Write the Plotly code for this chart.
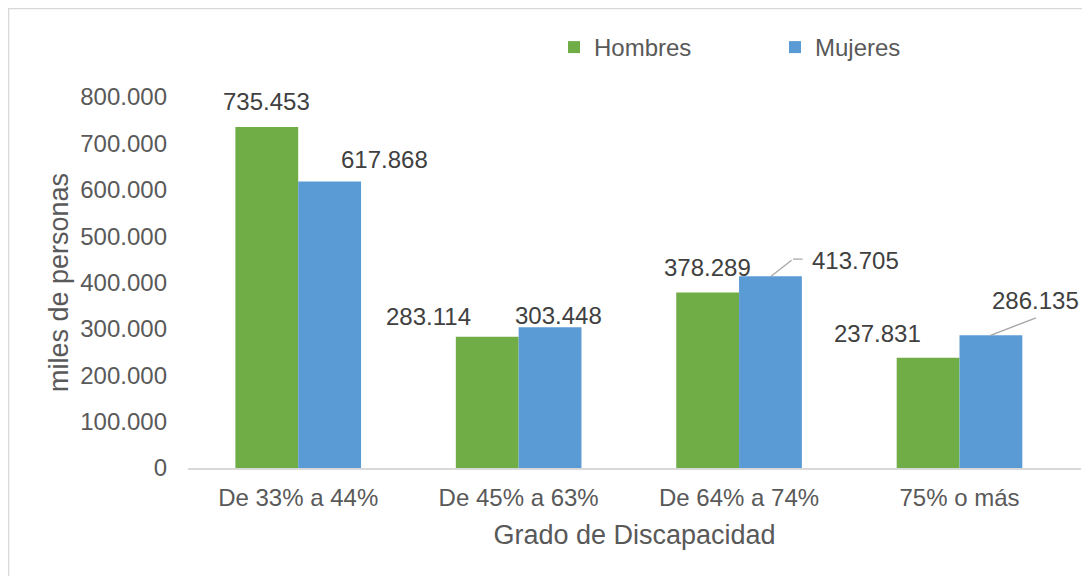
import plotly.graph_objects as go

categories = ["De 33% a 44%", "De 45% a 63%", "De 64% a 74%", "75% o más"]
hombres = [735453, 283114, 378289, 237831]
mujeres = [617868, 303448, 413705, 286135]
series_names = ["Hombres", "Mujeres"]
y_ticks = [0, 100000, 200000, 300000, 400000, 500000, 600000, 700000, 800000]

GREEN = "#70AD47"
BLUE = "#5B9BD5"
FONT = "Liberation Sans, Arial, sans-serif"
FS = 24
FT = 27

# label offsets (px): (dx from category centre, dy above bar top)
h_offsets = [(-31.5, 25.5), (-90, 20.7), (-32, 24.6), (-82, 24.7)]
m_offsets = [(86, 22), (40, 11.3), (116, 16), (76, 35)]


def fmt(v):
    return f"{v:,}".replace(",", ".")


fig = go.Figure()
fig.add_trace(go.Bar(name=series_names[0], x=categories, y=hombres,
                     marker=dict(color=GREEN, line=dict(width=0))))
fig.add_trace(go.Bar(name=series_names[1], x=categories, y=mujeres,
                     marker=dict(color=BLUE, line=dict(width=0))))

annotations = []
for vals, offs in ((hombres, h_offsets), (mujeres, m_offsets)):
    for cat, v, (dx, dy) in zip(categories, vals, offs):
        annotations.append(dict(x=cat, y=v, xref="x", yref="y", text=fmt(v),
                                showarrow=False, xshift=dx, yshift=dy,
                                xanchor="center", yanchor="middle",
                                font=dict(family=FONT, size=FS, color="#404040")))

# leader lines
leader = dict(xref="x", yref="y", text="", showarrow=True, arrowhead=0,
              arrowwidth=1.3, arrowcolor="#A6A6A6", standoff=0, startstandoff=0,
              axref="pixel", ayref="pixel", font=dict(size=1))
annotations.append(dict(leader, x=categories[2], y=mujeres[2], xshift=32, ax=22, ay=-17))
annotations.append(dict(leader, x=categories[2], y=mujeres[2], xshift=54, yshift=17, ax=11, ay=0))
annotations.append(dict(leader, x=categories[3], y=mujeres[3], xshift=31, ax=47, ay=-18))

# page has an 8px body margin: figure origin sits at (8, 8) of the window
OFF = 8
W, H = 1090 - OFF, 576 - OFF
l, r, t, b = 188 - OFF, 17 - OFF, 97 - OFF, 108
pw, ph = W - l - r, H - t - b


def px_x(p):
    return (p - OFF - l) / pw


def px_y(p):
    return (H - b - (p - OFF)) / ph


fig.update_layout(
    width=W, height=H,
    margin=dict(l=l, r=r, t=t, b=b),
    paper_bgcolor="white", plot_bgcolor="white",
    separators=",.",
    barmode="group", bargap=0.43, bargroupgap=0,
    font=dict(family=FONT, size=FS, color="#595959"),
    legend=dict(orientation="h", x=px_x(554), y=px_y(47.5), xanchor="left",
                yanchor="middle", xref="paper", yref="paper",
                entrywidth=176, entrywidthmode="pixels",
                font=dict(family=FONT, size=FS, color="#595959"),
                bgcolor="rgba(0,0,0,0)", traceorder="normal"),
    annotations=annotations,
    shapes=[dict(type="rect", xref="paper", yref="paper",
                 x0=px_x(8.7), x1=px_x(1100), y0=px_y(590), y1=px_y(8.7),
                 line=dict(color="#D9D9D9", width=1.3), fillcolor="rgba(0,0,0,0)",
                 layer="below")],
)

fig.update_xaxes(
    showgrid=False, showline=True, linecolor="#D9D9D9", linewidth=1.5,
    ticks="", ticklabelstandoff=7,
    tickfont=dict(family=FONT, size=FS, color="#595959"),
    title=dict(text="Grado de Discapacidad", standoff=16,
               font=dict(family=FONT, size=FT, color="#595959")),
)
fig.update_yaxes(
    range=[0, 800000], tickvals=y_ticks, tickformat=",d",
    showgrid=False, showline=False, zeroline=False, ticks="",
    ticklabelstandoff=20,
    tickfont=dict(family=FONT, size=FS, color="#595959"),
    title=dict(text="miles de personas", standoff=3,
               font=dict(family=FONT, size=FT, color="#595959")),
)

fig.write_html("out.html")
